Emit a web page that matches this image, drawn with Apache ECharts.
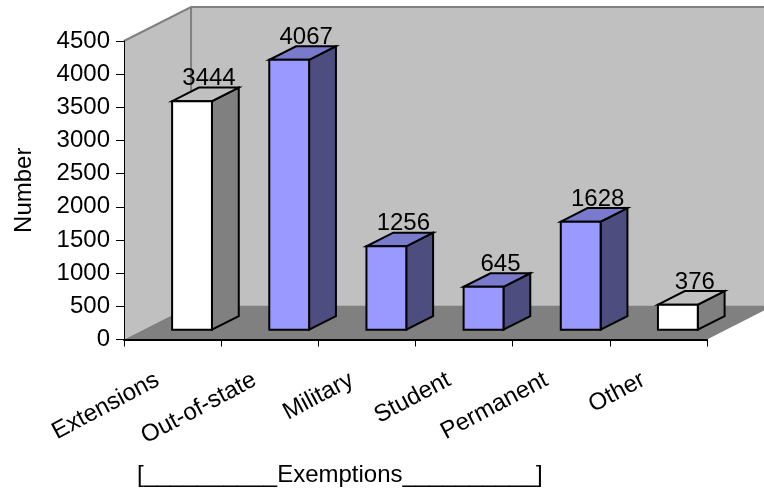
<!DOCTYPE html>
<html>
<head>
<meta charset="utf-8">
<script src="https://cdn.jsdelivr.net/npm/echarts@6/dist/echarts.min.js"></script>
<style>
  html, body { margin: 0; padding: 0; background: #fff; }
  #chart { width: 764px; height: 491px; }
</style>
</head>
<body>
<div id="chart"></div>
<script>
"use strict";

// chart data
const categories = ["Extensions", "Out-of-state", "Military", "Student", "Permanent", "Other"];
const values = [3444, 4067, 1256, 645, 1628, 376];
const whiteBars = ["Extensions", "Other"];
const yMin = 0;
const yMax = 4500;
const yStep = 500;
const axisTitle = "Number";
const bottomTitle = "[__________Exemptions__________]";

const FONT = "'Liberation Sans', Arial, sans-serif";
const FONT_SIZE = 24;

// 3d look, in category band widths
const DEPTH_X = 0.69,
  DEPTH_Y = -0.35,
  BAR_WIDTH = 0.41,
  BAR_FRONT = 0.29,
  BAR_BACK = 0.69;

const blueFaces = { front: "#9999ff", top: "#7a7acc", side: "#4d4d80" };
const whiteFaces = { front: "#ffffff", top: "#c0c0c0", side: "#808080" };

function renderBackdrop(params, api) {
  const cs = params.coordSys,
    band = cs.width / categories.length,
    dx = band * DEPTH_X,
    dy = band * DEPTH_Y,
    x0 = cs.x,
    x1 = cs.x + cs.width,
    y0 = cs.y,
    y1 = cs.y + cs.height;

  return {
    type: "group",
    children: [
      {
        type: "polygon",
        shape: { points: [[x0 + dx, y0 + dy], [x1 + dx + 20, y0 + dy], [x1 + dx + 20, y1 + dy], [x0 + dx, y1 + dy]] },
        style: { fill: "#c0c0c0" }
      },
      {
        type: "polygon",
        shape: { points: [[x0, y0], [x0 + dx, y0 + dy], [x0 + dx, y1 + dy], [x0, y1]] },
        style: { fill: "#c0c0c0" }
      },
      {
        type: "polygon",
        shape: { points: [[x0, y1], [x1, y1], [x1 + dx, y1 + dy], [x0 + dx, y1 + dy]] },
        style: { fill: "#808080" }
      },
      {
        type: "polyline",
        shape: { points: [[x0, y0], [x0 + dx, y0 + dy], [x1 + dx + 20, y0 + dy]] },
        style: { stroke: "#808080", lineWidth: 2, fill: null }
      },
      {
        type: "line",
        shape: { x1: x0 + dx, y1: y0 + dy, x2: x0 + dx, y2: y1 + dy },
        style: { stroke: "#808080", lineWidth: 2 }
      }
    ]
  };
}

function renderBar(params, api) {
  const i = api.value(0),
    v = api.value(1),
    base = api.coord([i, 0]),
    top = api.coord([i, v]),
    band = api.size([1, 0])[0],
    w = band * BAR_WIDTH,
    DX = band * DEPTH_X,
    DY = band * DEPTH_Y,
    x0 = base[0] - w / 2 + BAR_FRONT * DX,
    x1 = x0 + w,
    yb = base[1] + BAR_FRONT * DY,
    yt = top[1] + BAR_FRONT * DY,
    bx = (BAR_BACK - BAR_FRONT) * DX,
    by = (BAR_BACK - BAR_FRONT) * DY,
    faces = whiteBars.indexOf(categories[i]) !== -1 ? whiteFaces : blueFaces,
    edge = { stroke: "#000", lineWidth: 2, lineJoin: "miter" };

  return {
    type: "group",
    children: [
      {
        type: "polygon",
        shape: { points: [[x1, yt], [x1 + bx, yt + by], [x1 + bx, yb + by], [x1, yb]] },
        style: Object.assign({ fill: faces.side }, edge)
      },
      {
        type: "polygon",
        shape: { points: [[x0, yt], [x1, yt], [x1 + bx, yt + by], [x0 + bx, yt + by]] },
        style: Object.assign({ fill: faces.top }, edge)
      },
      {
        type: "rect",
        shape: { x: x0, y: yt, width: w, height: yb - yt },
        style: Object.assign({ fill: faces.front }, edge)
      },
      {
        type: "text",
        x: x0 + w / 2 + 17,
        y: yt + by + 3,
        style: {
          text: String(v),
          fill: "#000",
          font: FONT_SIZE + "px " + FONT,
          align: "center",
          verticalAlign: "bottom"
        }
      }
    ]
  };
}

const chart = echarts.init(document.getElementById("chart"), null, { renderer: "canvas" });

chart.setOption({
  animation: false,
  backgroundColor: "#fff",
  textStyle: { fontFamily: FONT },
  grid: { left: 124, right: 57, top: 41, bottom: 151.5, containLabel: false },
  xAxis: {
    type: "category",
    data: categories,
    z: 10,
    axisLine: { lineStyle: { color: "#000", width: 2 } },
    axisTick: { show: true, length: 7, lineStyle: { color: "#000", width: 1 } },
    axisLabel: {
      interval: 0,
      rotate: 28,
      margin: 31,
      padding: [0, 17, 0, 0],
      color: "#000",
      fontSize: FONT_SIZE,
      fontFamily: FONT
    },
    splitLine: { show: false }
  },
  yAxis: {
    type: "value",
    min: yMin,
    max: yMax,
    interval: yStep,
    z: 10,
    name: axisTitle,
    nameLocation: "middle",
    nameRotate: 90,
    nameGap: 88,
    nameTextStyle: { color: "#000", fontSize: FONT_SIZE, fontFamily: FONT },
    axisLine: { show: true, lineStyle: { color: "#000", width: 1 } },
    axisTick: { show: true, length: 8, lineStyle: { color: "#000" } },
    axisLabel: {
      margin: 14,
      color: "#000",
      fontSize: FONT_SIZE,
      fontFamily: FONT,
      formatter: v => String(v)
    },
    splitLine: { show: false }
  },
  graphic: [
    {
      type: "text",
      left: 137,
      top: 463,
      style: { text: bottomTitle, fill: "#000", font: FONT_SIZE + "px " + FONT }
    }
  ],
  series: [
    {
      type: "custom",
      name: "backdrop",
      z: 1,
      silent: true,
      clip: false,
      renderItem: renderBackdrop,
      data: [[0, 0]]
    },
    {
      type: "custom",
      name: "bars",
      z: 5,
      clip: false,
      renderItem: renderBar,
      encode: { x: 0, y: 1 },
      data: values.map((v, i) => [i, v])
    }
  ]
});
</script>
</body>
</html>
